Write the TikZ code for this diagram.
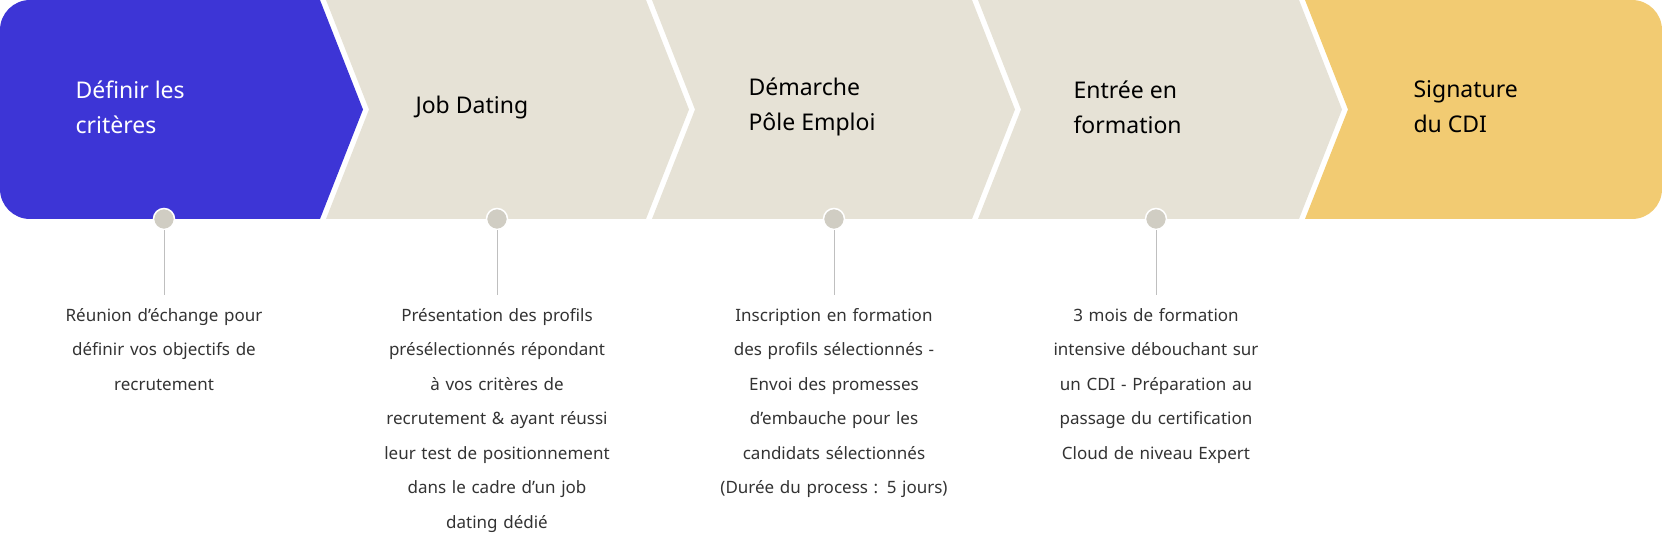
\documentclass[tikz,border=0pt]{standalone}
\usepackage{fontspec}
\setmainfont{Noto Sans}
\definecolor{blu}{HTML}{3D35D6}
\definecolor{beig}{HTML}{E6E2D6}
\definecolor{yel}{HTML}{F2CB72}
\definecolor{dotc}{HTML}{D0CDC3}
\definecolor{txt}{HTML}{333333}
\tikzset{
 title/.style={anchor=west,align=left,font=\fontsize{23}{35}\selectfont},
 desc/.style={anchor=north,align=center,text width=250pt,text=txt,font=\fontsize{17}{34.5}\selectfont,inner sep=0pt},
 dot/.style={circle,fill=dotc,draw=white,line width=1.5pt,minimum size=21pt,inner sep=0pt},
 stem/.style={draw=black!25,line width=1pt}
}
\begin{document}
\begin{tikzpicture}[x=1pt,y=-1pt]
\useasboundingbox (0,0) rectangle (1662,556);
\fill[blu] (320,0) -- (363,109.5) -- (320,219) -- (30,219) arc[start angle=90,end angle=180,radius=30] -- (0,30) arc[start angle=180,end angle=270,radius=30] -- cycle;
\fill[beig] (326,0) -- (646,0) -- (689,109.5) -- (646,219) -- (326,219) -- (369,109.5) -- cycle;
\fill[beig] (652,0) -- (972,0) -- (1015,109.5) -- (972,219) -- (652,219) -- (695,109.5) -- cycle;
\fill[beig] (978,0) -- (1299,0) -- (1342,109.5) -- (1299,219) -- (978,219) -- (1021,109.5) -- cycle;
\fill[yel] (1305,0) -- (1632,0) arc[start angle=-90,end angle=0,radius=30] -- (1662,189) arc[start angle=0,end angle=90,radius=30] -- (1305,219) -- (1348,109.5) -- cycle;
\node[title,text=white] (t1) at (72,107) {Définir les\\critères};
\node[title] (t2) at (412,108) {Job Dating};
\node[title] (t3) at (745,107) {Démarche\\Pôle Emploi};
\node[title] (t4) at (1070,107) {Entrée en\\formation};
\node[title,font=\fontsize{23}{35}\selectfont\bfseries] (t5) at (1410,107) {Signature\\du CDI};
\foreach \i/\x in {1/164,2/497,3/834,4/1156}{
 \coordinate (e\i) at (\x,295);
 \node[dot] (d\i) at (\x,219) {};
 \draw[stem] (d\i) -- (e\i);
}
\node[desc] (p1) at (164,308) {\textbf{Réunion d'échange} pour\\définir vos objectifs de\\recrutement};
\node[desc] (p2) at (497,308) {\textbf{Présentation} des profils\\présélectionnés répondant\\à vos critères de\\recrutement \& ayant réussi\\leur test de positionnement\\dans le cadre d'un job\\dating dédié};
\node[desc] (p3) at (834,308) {\textbf{Inscription} en formation\\des profils sélectionnés -\\Envoi des promesses\\d'embauche pour les\\candidats sélectionnés\\(Durée du process : 5 jours)};
\node[desc] (p4) at (1156,308) {\textbf{3 mois de formation}\\\textbf{intensive} débouchant sur\\un CDI - Préparation au\\passage du certification\\Cloud de niveau Expert};
\end{tikzpicture}
\end{document}
